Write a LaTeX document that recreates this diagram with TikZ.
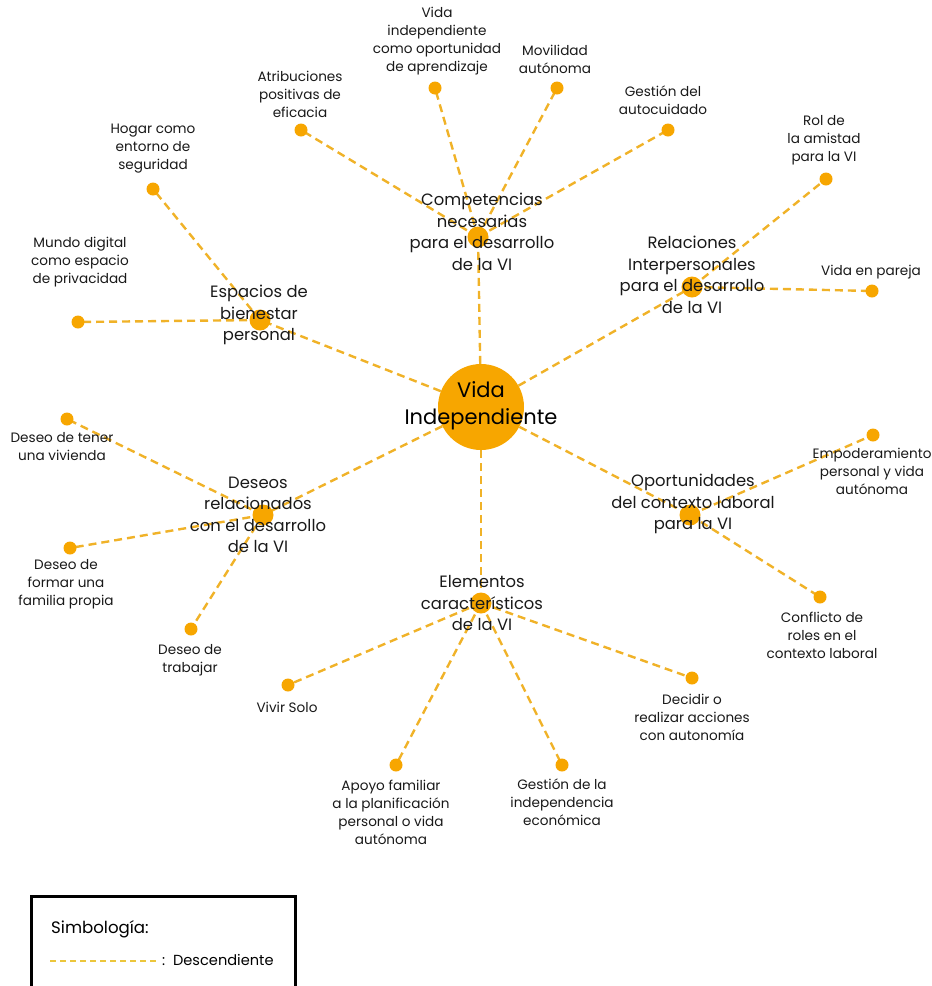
\documentclass[tikz,border=0pt]{standalone}
\usepackage{fontspec}
\setmainfont{Poppins}
\usetikzlibrary{backgrounds}
\definecolor{vidaorange}{RGB}{247,166,0}
\definecolor{linkorange}{RGB}{240,178,40}
\definecolor{legendyellow}{RGB}{236,198,60}

\begin{document}
\begin{tikzpicture}[x=1pt, y=-1pt,
    core/.style={circle, fill=vidaorange, minimum size=86pt, inner sep=0pt},
    hub/.style={circle, fill=vidaorange, minimum size=21pt, inner sep=0pt},
    leaf/.style={circle, fill=vidaorange, minimum size=13pt, inner sep=0pt},
    hubtext/.style={align=center, inner sep=0pt, text=black!90, font=\fontsize{16.4}{21.5}\selectfont},
    leaftext/.style={align=center, inner sep=0pt, text=black!90, font=\fontsize{13.6}{18}\selectfont},
    link/.style={linkorange, line width=2.4pt, dash pattern=on 8pt off 5pt},
    legendlink/.style={legendyellow, line width=1.6pt, dash pattern=on 6pt off 4pt}
]
    \useasboundingbox (0,0) rectangle (932,986);

    \node[core] (vi) at (481,407) {};
    \node[align=center, inner sep=0pt, font=\fontsize{21}{27}\selectfont] (vitext) at (481,406) {Vida\\Independiente};

    \node[hub] (comp) at (478,237) {};
    \node[hub] (rel) at (692,287) {};
    \node[hub] (esp) at (260,320) {};
    \node[hub] (des) at (263,515) {};
    \node[hub] (ele) at (481,603) {};
    \node[hub] (opo) at (690,515) {};

    \node[leaf] (atr) at (301,130) {};
    \node[leaf] (apr) at (435,88) {};
    \node[leaf] (mov) at (557,88) {};
    \node[leaf] (auto) at (668,130) {};
    \node[leaf] (ami) at (826,179) {};
    \node[leaf] (par) at (872,291) {};
    \node[leaf] (hog) at (153,189) {};
    \node[leaf] (dig) at (78,322) {};
    \node[leaf] (viv) at (67,419) {};
    \node[leaf] (fam) at (70,548) {};
    \node[leaf] (tra) at (191,629) {};
    \node[leaf] (sol) at (288,685) {};
    \node[leaf] (apo) at (396,765) {};
    \node[leaf] (eco) at (562,765) {};
    \node[leaf] (dec) at (692,678) {};
    \node[leaf] (emp) at (873,435) {};
    \node[leaf] (con) at (820,597) {};

    \begin{scope}[on background layer]
        \foreach \h in {comp,rel,esp,des,ele,opo}
            \draw[link] (vi) -- (\h.center);
        \foreach \l in {atr,apr,mov,auto}
            \draw[link] (comp.center) -- (\l.center);
        \foreach \l in {ami,par}
            \draw[link] (rel.center) -- (\l.center);
        \foreach \l in {hog,dig}
            \draw[link] (esp.center) -- (\l.center);
        \foreach \l in {viv,fam,tra}
            \draw[link] (des.center) -- (\l.center);
        \foreach \l in {sol,apo,eco,dec}
            \draw[link] (ele.center) -- (\l.center);
        \foreach \l in {emp,con}
            \draw[link] (opo.center) -- (\l.center);
    \end{scope}

    \node[hubtext] (comptext) at (482,232) {Competencias\\necesarias\\para el desarrollo\\de la VI};
    \node[hubtext] (reltext) at (692,275) {Relaciones\\Interpersonales\\para el desarrollo\\de la VI};
    \node[hubtext] (esptext) at (259,315) {Espacios de\\bienestar\\personal};
    \node[hubtext] (destext) at (258,515) {Deseos\\relacionados\\con el desarrollo\\de la VI};
    \node[hubtext] (eletext) at (482,603) {Elementos\\característicos\\de la VI};
    \node[hubtext] (opotext) at (693,504) {Oportunidades\\del contexto laboral\\para la VI};

    \node[leaftext] (atrtext) at (300,94) {Atribuciones\\positivas de\\eficacia};
    \node[leaftext] (aprtext) at (437,41) {Vida\\independiente\\como oportunidad\\de aprendizaje};
    \node[leaftext] (movtext) at (555,59) {Movilidad\\autónoma};
    \node[leaftext] (autotext) at (663,100) {Gestión del\\autocuidado};
    \node[leaftext] (amitext) at (824,140) {Rol de\\la amistad\\para la VI};
    \node[leaftext] (partext) at (871,272) {Vida en pareja};
    \node[leaftext] (hogtext) at (153,149) {Hogar como\\entorno de\\seguridad};
    \node[leaftext] (digtext) at (80,262) {Mundo digital\\como espacio\\de privacidad};
    \node[leaftext] (vivtext) at (62,447) {Deseo de tener\\una vivienda};
    \node[leaftext] (famtext) at (66,584) {Deseo de\\formar una\\familia propia};
    \node[leaftext] (tratext) at (190,660) {Deseo de\\trabajar};
    \node[leaftext] (soltext) at (287,707) {Vivir Solo};
    \node[leaftext] (apotext) at (391,812) {Apoyo familiar\\a la planificación\\personal o vida\\autónoma};
    \node[leaftext] (ecotext) at (562,802) {Gestión de la\\independencia\\económica};
    \node[leaftext] (dectext) at (692,717) {Decidir o\\realizar acciones\\con autonomía};
    \node[leaftext] (emptext) at (872,471) {Empoderamiento\\personal y vida\\autónoma};
    \node[leaftext] (context) at (822,635) {Conflicto de\\roles en el\\contexto laboral};

    \draw[line width=3pt] (31,896) rectangle (295,1010);
    \node[anchor=west, inner sep=0pt, font=\fontsize{16.6}{18}\selectfont] (simb) at (51,929) {Simbología:};
    \coordinate (lgA) at (50,961);
    \coordinate (lgB) at (157,961);
    \draw[legendlink] (lgA) -- (lgB);
    \node[anchor=west, inner sep=0pt, font=\fontsize{14.6}{16}\selectfont] (desc) at (162,960) {:\ \ Descendiente};
\end{tikzpicture}
\end{document}
